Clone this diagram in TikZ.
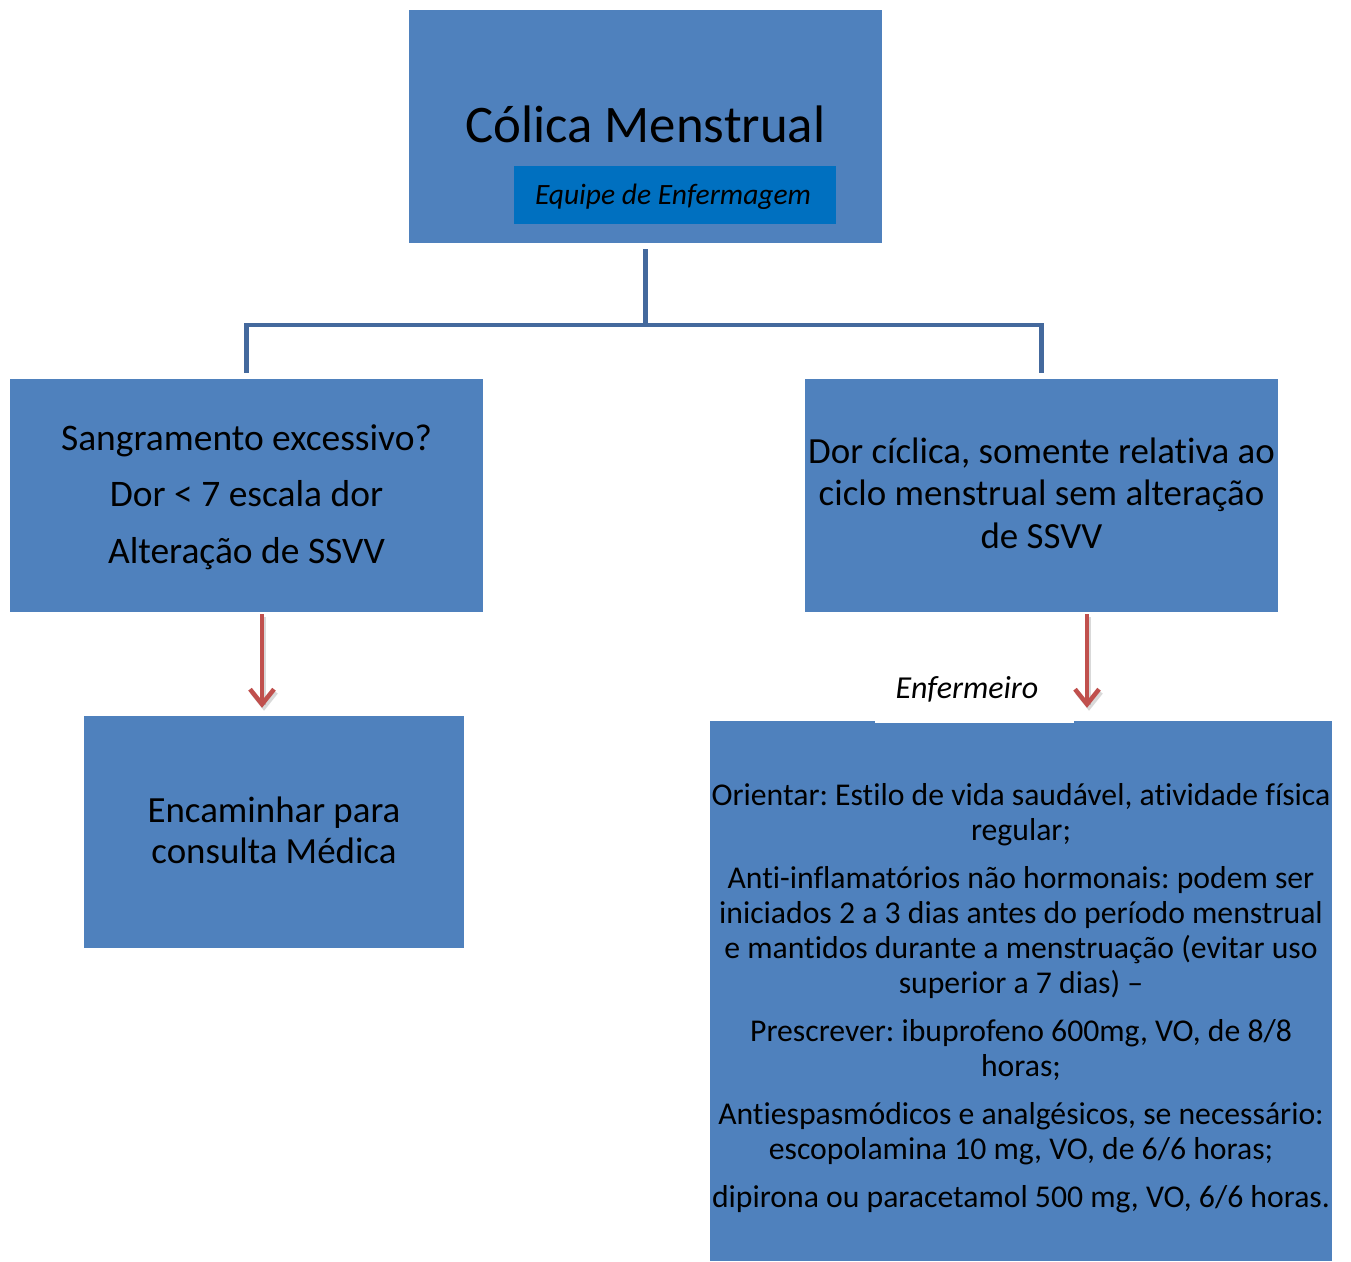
\documentclass[tikz,border=0pt]{standalone}
\usepackage{fontspec}
\setmainfont{Carlito}[Ligatures=CommonOff]
\usetikzlibrary{arrows.meta,calc}

\definecolor{boxblue}{RGB}{79,129,189}
\definecolor{tagblue}{RGB}{0,112,192}
\definecolor{linkblue}{RGB}{68,105,157}
\definecolor{arrred}{RGB}{192,80,77}

\begin{document}
\frenchspacing
\begin{tikzpicture}[x=1pt,y=-1pt,
  panel/.style={fill=boxblue, draw=none, inner sep=0pt},
  txt/.style={text=black, inner sep=0pt, anchor=base, align=center},
  link/.style={draw=linkblue, line width=4.5pt},
  arrowline/.style={draw=arrred, line width=4.5pt,
    -{Straight Barb[length=15pt,width=24pt]}},
  arrowshade/.style={draw=black, opacity=0.15, line width=4.5pt,
    -{Straight Barb[length=15pt,width=24pt]},
    transform canvas={xshift=2pt,yshift=-3pt}}]

% page
\fill[white] (0,0) rectangle (1351,1261);
\useasboundingbox (0,0) rectangle (1351,1261);

% title box
\node[panel, minimum width=473pt, minimum height=233pt] (top) at (645.5,126.5) {};
\node[panel, fill=tagblue, minimum width=322pt, minimum height=58pt] (tag) at (675,195) {};
\node[txt, font={\fontsize{52.8}{60}\selectfont}] (toptxt) at (645.5,142) {Cólica Menstrual};
\node[txt, font={\fontsize{29.5}{34}\selectfont\itshape}] (tagtxt) at (673,204) {Equipe de Enfermagem};

% second level (multi-line texts are anchored at the baseline of their last line)
\node[panel, minimum width=473pt, minimum height=233pt] (left) at (246.5,495.5) {};
\node[txt, font={\fontsize{37.5}{56.5}\selectfont}] (lefttxt) at (246.5,563)
  {Sangramento excessivo?\\ Dor < 7 escala dor\\ Alteração de SSVV};

\node[panel, minimum width=473pt, minimum height=233pt] (right) at (1041.5,495.5) {};
\node[txt, font={\fontsize{36.9}{42.5}\selectfont}] (righttxt) at (1041.5,548)
  {Dor cíclica, somente relativa ao\\ ciclo menstrual sem alteração\\ de SSVV};

% third level
\node[panel, minimum width=380pt, minimum height=232pt] (bl) at (274,832) {};
\node[txt, font={\fontsize{36.9}{41}\selectfont}] (bltxt) at (274,863)
  {Encaminhar para\\ consulta Médica};

\node[panel, minimum width=622pt, minimum height=540pt] (br) at (1021,991) {};
\node[txt, font={\fontsize{31.7}{35}\selectfont}] (brtxt) at (1021,1207)
  {Orientar: Estilo de vida saudável, atividade física\\ regular;\\[13pt]
  Anti-inflamatórios não hormonais: podem ser\\
  iniciados 2 a 3 dias antes do período menstrual\\
  e mantidos durante a menstruação (evitar uso\\
  superior a 7 dias) –\\[13pt]
  Prescrever: ibuprofeno 600mg, VO, de 8/8\\ horas;\\[13pt]
  Antiespasmódicos e analgésicos, se necessário:\\
  escopolamina 10 mg, VO, de 6/6 horas;\\[13pt]
  dipirona ou paracetamol 500 mg, VO, 6/6 horas.};

% label over the treatment box
\node[fill=white, inner sep=0pt, minimum width=199pt, minimum height=73pt] (lbl) at (974.5,686.5) {};
\node[txt, font={\fontsize{32}{36}\selectfont\itshape}] (lbltxt) at (967,698) {Enfermeiro};

% tree connector
\draw[link] ($(top.south)+(0,6)$) -- ($(top.south)+(0,82)$);
\draw[link] ($(left.north)+(0,-6)$) |- ($(top.south)+(0,82)$) -| ($(right.north)+(0,-6)$);

% arrows with soft shadow
\draw[arrowshade] ($(left.south)+(15.5,2)$) -- ($(bl.north)+(-12,-8)$);
\draw[arrowline] ($(left.south)+(15.5,2)$) -- ($(bl.north)+(-12,-8)$);
\draw[arrowshade] ($(right.south)+(45.5,2)$) -- ($(br.north)+(66,-13)$);
\draw[arrowline] ($(right.south)+(45.5,2)$) -- ($(br.north)+(66,-13)$);
\end{tikzpicture}
\end{document}
